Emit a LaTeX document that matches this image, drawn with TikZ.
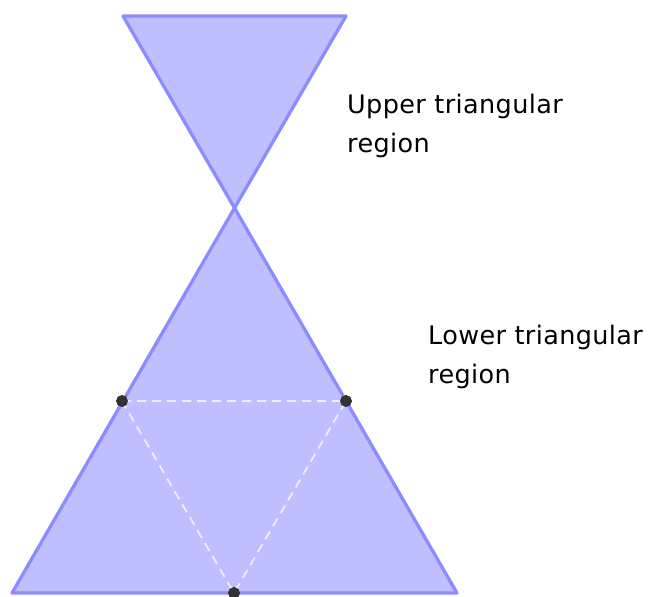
\documentclass[tikz,border=0pt]{standalone}
\usepackage{fontspec}
\setmainfont{DejaVu Sans}[LetterSpace=1.5]
\definecolor{regfill}{RGB}{191,191,255}
\definecolor{regline}{RGB}{140,140,255}
\definecolor{ptcol}{RGB}{51,51,51}
\tikzset{
  region/.style={fill=regfill, draw=regline, line width=3.3pt, line join=round, line cap=round},
  midline/.style={draw=white, opacity=0.75, line width=1.8pt, dash pattern=on 9pt off 6pt},
  pt/.style={circle, fill=ptcol, draw=black!80, line width=0.6pt, inner sep=0pt, minimum size=11pt},
  lbl/.style={font=\fontsize{25.5}{30}\selectfont, anchor=base west, inner sep=0pt}
}
\begin{document}
\begin{tikzpicture}[x=1pt,y=-1pt]
\useasboundingbox (0,0) rectangle (649,597);
\coordinate (UL) at (123,16);
\coordinate (UR) at (346,16);
\coordinate (X) at (234.5,208);
\coordinate (BL) at (12,593);
\coordinate (BR) at (457,593);
\draw[region] (UL) -- (UR) -- (X) -- cycle;
\draw[region] (X) -- (BR) -- (BL) -- cycle;
\node[pt] (P) at (122,401) {};
\node[pt] (Q) at (346,401) {};
\node[pt] (R) at (234,593) {};
\draw[midline] (P.center) -- (Q.center) -- (R.center) -- cycle;
\node[pt] at (P) {};
\node[pt] at (Q) {};
\node[pt] at (R) {};
\node[lbl] (up1) at (347,113) {Upper triangular};
\node[lbl] (up2) at (347,152) {region};
\node[lbl] (lo1) at (428,344) {Lower triangular};
\node[lbl] (lo2) at (428,383) {region};
\end{tikzpicture}
\end{document}
